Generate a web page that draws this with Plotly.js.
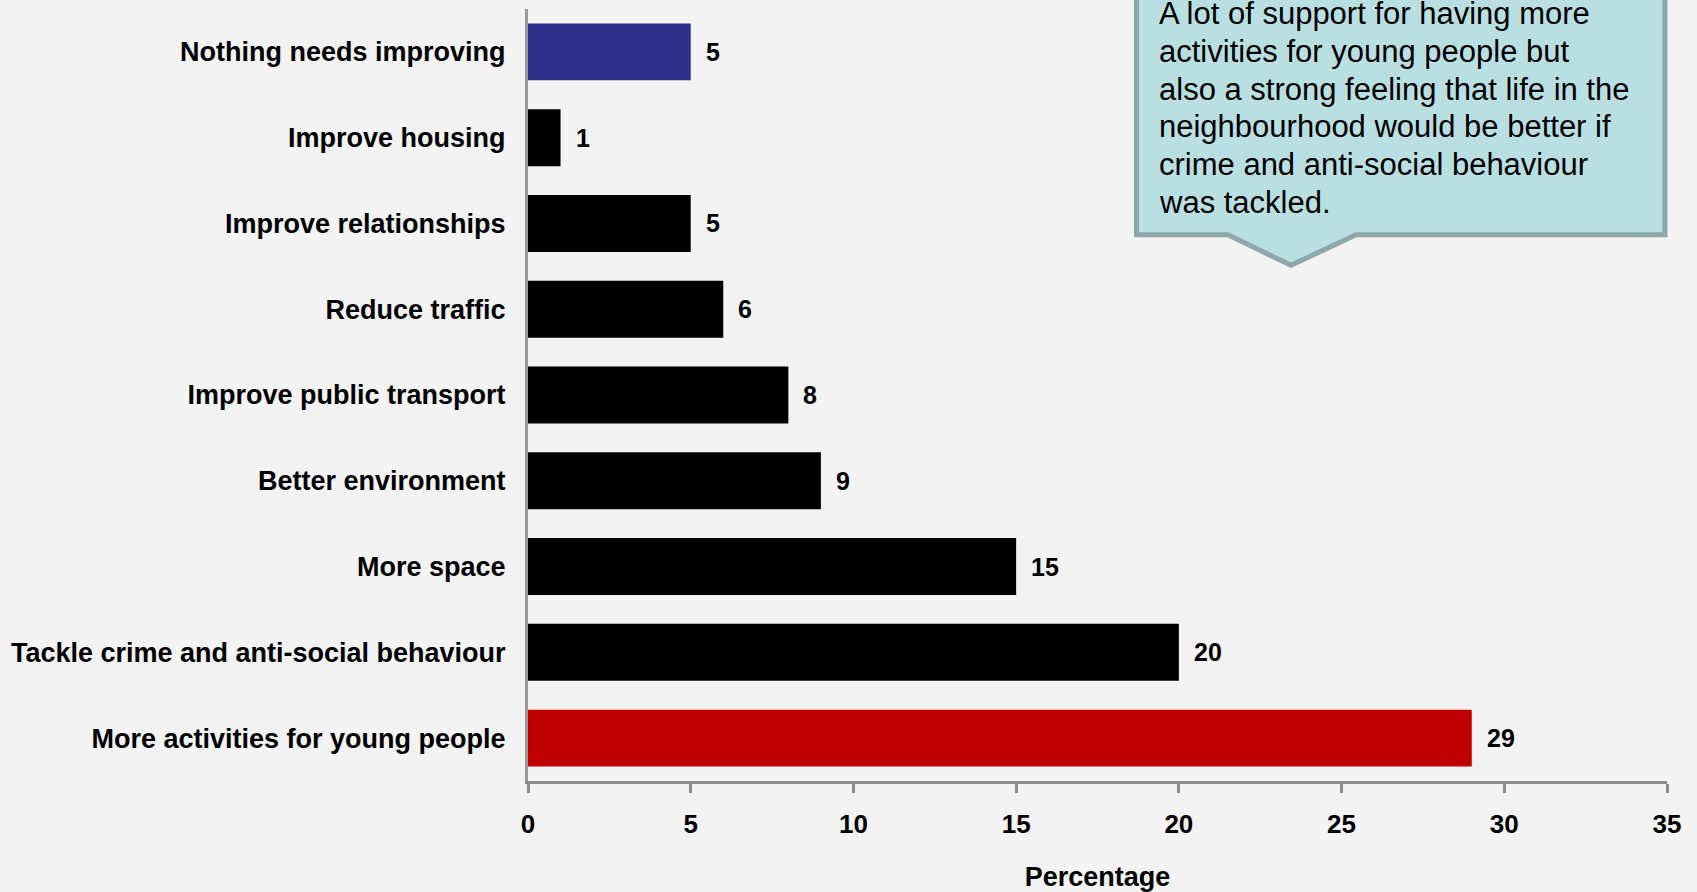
<!DOCTYPE html>
<html>
<head>
<meta charset="utf-8">
<script src="https://cdn.plot.ly/plotly-3.0.1.min.js"></script>
<style>
  html, body { margin: 0; padding: 0; background: #f3f3f3; }
  #chart { width: 1697px; height: 892px; }
</style>
</head>
<body>
<div id="chart"></div>
<script>
// ---- Data (bottom-to-top order as drawn by Plotly) ----
const categories = [
  "More activities for young people",
  "Tackle crime and anti-social behaviour",
  "More space",
  "Better environment",
  "Improve public transport",
  "Reduce traffic",
  "Improve relationships",
  "Improve housing",
  "Nothing needs improving"
];
const percentages = [29, 20, 15, 9, 8, 6, 5, 1, 5];
const xTickValues = [0, 5, 10, 15, 20, 25, 30, 35];
const calloutLines = [
  "A lot of support for having more",
  "activities for young people but",
  "also a strong feeling that life in the",
  "neighbourhood would be better if",
  "crime and anti-social behaviour",
  "was tackled."
];
const xAxisTitle = "Percentage";

// ---- Styles ----
const barColors = categories.map((c, i) =>
  i === 0 ? "#c00000" : (i === categories.length - 1 ? "#2e2e8a" : "#000000"));
const FONT = "'Liberation Sans', Arial, sans-serif";
const axisGrey = "#8c8c8c";

const trace = {
  type: "bar",
  orientation: "h",
  y: categories,
  x: percentages,
  marker: { color: barColors, line: { width: 0 } },
  hoverinfo: "x+y",
  showlegend: false
};

const valueAnnotations = categories.map((c, i) => ({
  x: percentages[i],
  y: c,
  xref: "x",
  yref: "y",
  text: String(percentages[i]),
  showarrow: false,
  xanchor: "left",
  yanchor: "middle",
  xshift: 13,
  font: { family: FONT, size: 25, weight: 700, color: "#000" }
}));

// callout text: one annotation per line so the line pitch matches
const PLOT_TOP_PX = 8.5, PLOT_H_PX = 772.7;
const calloutAnnotations = calloutLines.map((line, i) => ({
  xref: "paper",
  yref: "paper",
  x: 0.5535,
  y: (PLOT_H_PX + PLOT_TOP_PX - (13.5 + i * 37.7)) / PLOT_H_PX,
  xanchor: "left",
  yanchor: "middle",
  align: "left",
  showarrow: false,
  borderpad: 0,
  text: line,
  font: { family: FONT, size: 31, color: "#000" }
}));

const layout = {
  width: 1697,
  height: 892,
  paper_bgcolor: "#f3f3f3",
  plot_bgcolor: "#f3f3f3",
  margin: { l: 528, r: 30, t: 8.5, b: 111, pad: 0 },
  bargap: 0.336,
  font: { family: FONT, color: "#000" },
  xaxis: {
    range: [0, 35],
    tickvals: xTickValues,
    ticktext: xTickValues.map(String),
    ticks: "outside",
    ticklen: 9,
    tickwidth: 3,
    tickcolor: axisGrey,
    showline: true,
    linewidth: 3,
    linecolor: axisGrey,
    showgrid: false,
    zeroline: false,
    ticklabelstandoff: 9,
    tickfont: { family: FONT, size: 26, weight: 700, color: "#000" },
    title: {
      text: xAxisTitle,
      standoff: 29,
      font: { family: FONT, size: 27, weight: 700, color: "#000" }
    }
  },
  yaxis: {
    type: "category",
    categoryorder: "array",
    categoryarray: categories,
    showline: true,
    linewidth: 3,
    linecolor: "#999999",
    showgrid: false,
    zeroline: false,
    ticks: "",
    ticklabelstandoff: 14,
    tickfont: { family: FONT, size: 27, weight: 700, color: "#000" }
  },
  shapes: [{
    type: "path",
    xref: "paper",
    yref: "paper",
    path: "M 0.5342 1.04 L 0.9982 1.04 L 0.9982 0.7075 L 0.7270 0.7075 L 0.6699 0.668 L 0.6146 0.7075 L 0.5342 0.7075 Z",
    fillcolor: "#b9dfe2",
    line: { color: "#8ea7aa", width: 5 },
    layer: "above"
  }],
  annotations: valueAnnotations.concat(calloutAnnotations)
};

Plotly.newPlot("chart", [trace], layout, { displayModeBar: false, staticPlot: true });
</script>
</body>
</html>
